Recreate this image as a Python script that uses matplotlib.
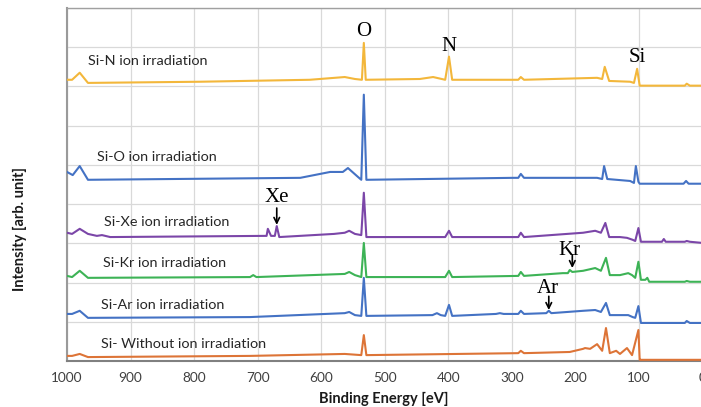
import matplotlib
matplotlib.use("Agg")
import matplotlib.pyplot as plt

# ---------------- data (binding energy [eV], stacked intensity [arb.]) ----------------
e_n = [1000, 992, 980, 967, 791, 618, 563, 547, 536, 533, 530, 445, 424, 405, 399, 394,
       290, 286, 281, 166, 158, 154, 147, 114, 108, 103, 99, 28, 25, 20, 0]
i_n = [7.17, 7.17, 7.35, 7.09, 7.12, 7.17, 7.24, 7.19, 7.17, 8.11, 7.17, 7.19, 7.24, 7.17, 7.76, 7.17,
       7.17, 7.24, 7.17, 7.22, 7.19, 7.50, 7.14, 7.12, 7.09, 7.45, 7.02, 7.02, 7.07, 7.02, 7.02]

e_o = [1000, 991, 980, 967, 633, 586, 566, 558, 542, 537, 533, 529, 298, 290, 286, 281,
       166, 158, 155, 150, 114, 108, 105, 101, 99, 30, 26, 22, 0]
i_o = [4.82, 4.74, 4.97, 4.62, 4.67, 4.82, 4.82, 4.92, 4.69, 4.62, 6.79, 4.62, 4.67, 4.67, 4.77, 4.67,
       4.67, 4.64, 4.97, 4.64, 4.59, 4.54, 4.97, 4.57, 4.52, 4.52, 4.59, 4.52, 4.52]

e_xe = [1000, 992, 980, 967, 953, 945, 932, 690, 686, 684, 679, 673, 670, 666, 580, 563, 556, 547,
        537, 533, 529, 405, 399, 394, 290, 286, 281, 188, 169, 160, 153, 147, 130, 119, 110, 106,
        101, 97, 64, 61, 58, 28, 25, 20, 0]
i_xe = [3.27, 3.24, 3.37, 3.24, 3.19, 3.21, 3.16, 3.19, 3.19, 3.37, 3.19, 3.19, 3.44, 3.16, 3.24, 3.27, 3.32, 3.24,
        3.21, 4.29, 3.16, 3.16, 3.32, 3.16, 3.16, 3.27, 3.16, 3.27, 3.32, 3.27, 3.52, 3.16, 3.16, 3.14, 3.09, 3.06,
        3.39, 3.04, 3.04, 3.11, 3.04, 3.04, 3.06, 3.04, 3.01]

e_kr = [1000, 992, 980, 967, 712, 707, 702, 563, 556, 547, 537, 533, 529, 405, 399, 394, 290, 286, 281,
        220, 212, 209, 205, 188, 169, 160, 152, 146, 130, 117, 111, 106, 101, 97, 90, 87, 84, 28, 25, 20, 0]
i_kr = [2.17, 2.14, 2.30, 2.12, 2.14, 2.19, 2.14, 2.22, 2.27, 2.19, 2.14, 3.01, 2.14, 2.14, 2.30, 2.14, 2.17, 2.27, 2.17,
        2.24, 2.24, 2.32, 2.27, 2.30, 2.37, 2.30, 2.63, 2.19, 2.19, 2.24, 2.19, 2.12, 2.53, 2.07, 2.07, 2.12, 2.02,
        2.02, 2.04, 2.02, 2.02]

e_ar = [1000, 992, 980, 967, 712, 563, 556, 547, 537, 533, 529, 425, 418, 412, 405, 399, 394, 325, 319, 313,
        290, 286, 281, 246, 242, 238, 188, 169, 160, 152, 146, 130, 117, 110, 106, 101, 97, 28, 25, 20, 0]
i_ar = [1.20, 1.20, 1.28, 1.10, 1.12, 1.22, 1.25, 1.17, 1.15, 2.12, 1.15, 1.17, 1.22, 1.17, 1.15, 1.43, 1.15, 1.20, 1.22, 1.20,
        1.20, 1.28, 1.20, 1.22, 1.28, 1.22, 1.28, 1.30, 1.25, 1.48, 1.17, 1.17, 1.17, 1.12, 1.10, 1.40, 0.97, 0.97, 1.02, 0.97, 0.97]

e_wo = [1000, 992, 980, 967, 712, 563, 537, 533, 529, 290, 286, 281, 209, 188, 185, 177, 166, 158, 152, 146,
        136, 130, 119, 111, 101, 99, 97, 0]
i_wo = [0.13, 0.13, 0.18, 0.10, 0.13, 0.18, 0.15, 0.66, 0.15, 0.20, 0.26, 0.20, 0.23, 0.31, 0.33, 0.31, 0.43, 0.26, 0.84, 0.20,
        0.26, 0.18, 0.33, 0.15, 0.79, 0.03, 0.03, 0.03]

series_labels = ["Si-N ion irradiation", "Si-O ion irradiation", "Si-Xe ion irradiation",
                 "Si-Kr ion irradiation", "Si-Ar ion irradiation", "Si- Without ion irradiation"]
x_ticks = [1000, 900, 800, 700, 600, 500, 400, 300, 200, 100, 0]

# ---------------- styling ----------------
colors = ["#F3B73B", "#4472C4", "#7B46A8", "#3DB356", "#4472C4", "#DD7437"]
label_pos = [(967, 7.65), (953, 5.20), (942, 3.55), (943, 2.50), (947, 1.43), (947, 0.43)]

plt.rcParams['font.family'] = ['Lato', 'DejaVu Sans']
fig = plt.figure(figsize=(7.01, 4.07), dpi=100)
ax = fig.add_axes([67 / 701, 46 / 407, 635.6 / 701, 353 / 407])

xs = [e_n, e_o, e_xe, e_kr, e_ar, e_wo]
ys = [i_n, i_o, i_xe, i_kr, i_ar, i_wo]
for x, y, c in zip(xs, ys, colors):
    ax.plot(x, y, color=c, lw=1.5, solid_joinstyle='round', zorder=3)

for (lx, ly), t in zip(label_pos, series_labels):
    ax.text(lx, ly, t, fontsize=10.4, color="#262626", ha='left', va='center', zorder=4)

serif = ['Liberation Serif', 'DejaVu Serif']
ax.text(533, 8.39, "O", family=serif, fontsize=15, ha='center', va='center')
ax.text(399, 8.01, "N", family=serif, fontsize=15, ha='center', va='center')
ax.text(103, 7.73, "Si", family=serif, fontsize=15, ha='center', va='center')
ax.text(670, 4.17, "Xe", family=serif, fontsize=15, ha='center', va='center')
ax.text(209, 2.83, "Kr", family=serif, fontsize=15, ha='center', va='center')
ax.text(243, 1.84, "Ar", family=serif, fontsize=15, ha='center', va='center')

arrow = dict(arrowstyle='->', color='black', lw=1.2, shrinkA=0, shrinkB=0,
             mutation_scale=10)
ax.annotate("", xy=(670, 3.47), xytext=(670, 3.90), arrowprops=arrow)
ax.annotate("", xy=(205, 2.37), xytext=(205, 2.70), arrowprops=arrow)
ax.annotate("", xy=(242, 1.30), xytext=(242, 1.65), arrowprops=arrow)

ax.set_xlim(1000, 0)
ax.set_ylim(0, 9)
ax.set_xticks(x_ticks)
ax.set_xticklabels([str(v) for v in x_ticks])
ax.set_yticks(range(0, 10))
ax.set_yticklabels([])
ax.tick_params(axis='both', length=0)
ax.tick_params(axis='x', pad=8, labelsize=9.8, labelcolor="#404040")
ax.grid(True, color="#d9d9d9", lw=0.9, zorder=0)
ax.set_axisbelow(True)

ax.spines['left'].set_color("#9a9a9a")
ax.spines['left'].set_linewidth(1.5)
ax.spines['bottom'].set_color("#808080")
ax.spines['bottom'].set_linewidth(1.5)
ax.spines['top'].set_color("#a0a0a0")
ax.spines['top'].set_linewidth(1.0)
ax.spines['right'].set_visible(False)

fig.text(384 / 701, 8 / 407, "Binding Energy [eV]", fontsize=10.5, fontweight='bold',
         ha='center', va='center', color="#1a1a1a")
fig.text(20 / 701, 178 / 407, "Intensity [arb. unit]", fontsize=10.5, fontweight='bold',
         ha='center', va='center', rotation=90, color="#1a1a1a")

fig.savefig("out.png", dpi=100)
